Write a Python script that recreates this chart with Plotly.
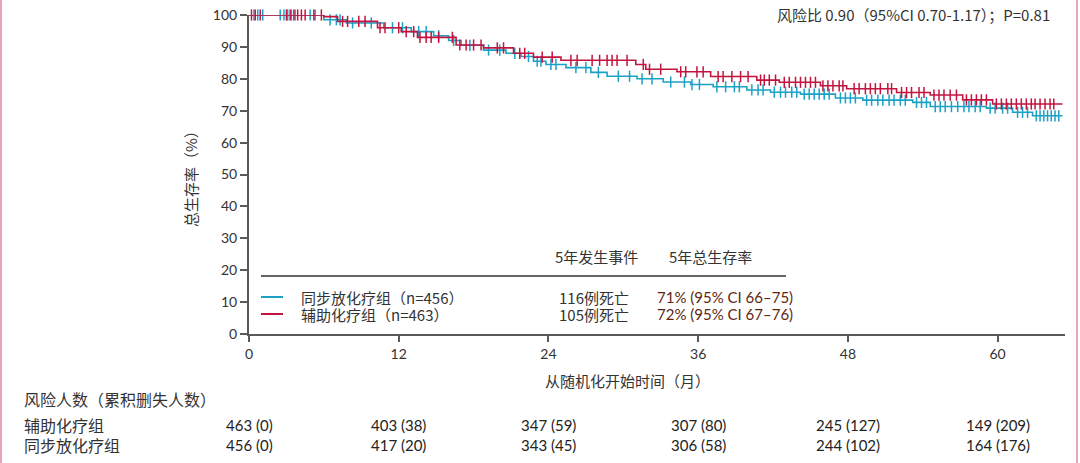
import numpy as np
import plotly.graph_objects as go

# ---------------- data ----------------
group_names = ["同步放化疗组（n=456）", "辅助化疗组（n=463）"]
events_5y = ["116例死亡", "105例死亡"]
os_5y = ["71% (95% CI 66–75)", "72% (95% CI 67–76)"]

# 同步放化疗组 (cyan) Kaplan-Meier steps
cc_times = [0, 6.0, 7.8, 10.8, 13.0, 14.8, 16.0, 17.0, 18.8, 20.6, 21.8, 22.8, 23.8, 25.4, 27.4,
            28.7, 31.1, 33.2, 35.4, 37.2, 39.9, 41.8, 44.2, 47.0, 49.2, 53.2, 54.6, 59.1, 61.2, 62.8]
cc_surv = [100, 98.5, 97.5, 96, 94.8, 93.5, 92, 90.5, 89, 88, 87, 85.5, 84.5, 83.5, 82,
           80.8, 80, 79, 78.2, 77.5, 76.5, 75.8, 75.2, 74, 73.3, 72.6, 71.3, 70.8, 69.5, 68.4]
cc_end = 65.2
cc_censor = [0.4, 0.7, 1.1, 2.5, 2.8, 3.1, 3.4, 3.7, 4.9, 5.3, 6.5, 7.0, 7.3, 8.3, 9.8, 11.5, 12.3,
             13.6, 14.2, 15.2, 16.4, 17.7, 19.2, 20.1, 21.3, 22.4, 23.1, 23.4, 24.2, 24.6, 26.2,
             27.0, 28.0, 29.6, 30.5, 31.5, 32.3, 33.8, 34.9, 35.5, 36.1, 37.5, 38.2, 38.9, 39.3,
             40.3, 40.8, 41.2, 42.1, 42.6, 43.0, 43.5, 43.9, 44.5, 44.9, 45.3, 45.7, 46.1, 46.5,
             47.4, 47.8, 48.2, 48.6, 49.5, 49.9, 50.4, 50.8, 51.3, 51.7, 52.2, 52.6, 53.5, 53.9,
             54.3, 55.0, 55.4, 55.8, 56.3, 56.8, 57.3, 57.7, 58.2, 58.6, 59.4, 59.8, 60.4, 60.8,
             61.6, 62.0, 62.4, 63.1, 63.4, 63.7, 64.0, 64.3, 64.6, 64.9]

# 辅助化疗组 (red) Kaplan-Meier steps
adj_times = [0, 6.0, 7.1, 10.3, 12.2, 13.5, 16.6, 18.8, 21.2, 22.8, 25.0, 31.0, 31.8, 34.3,
             37.0, 40.7, 42.5, 45.8, 47.9, 51.9, 54.6, 57.2, 59.6]
adj_surv = [100, 99.5, 98, 96, 94.8, 93, 90.6, 89.7, 88, 86.8, 85.8, 84.5, 83, 82.2,
            80.7, 79.6, 78.9, 77.8, 76.9, 75.7, 74.9, 73.4, 72.1]
adj_end = 65.2
adj_censor = [0.2, 0.5, 0.9, 3.0, 3.3, 3.6, 3.9, 4.2, 4.5, 5.2, 5.8, 7.5, 7.9, 8.8, 9.3, 10.5,
              10.9, 12.0, 12.6, 13.2, 13.7, 14.2, 14.6, 15.2, 16.3, 16.9, 17.4, 18.0, 18.6, 19.9,
              20.4, 21.7, 22.1, 23.5, 24.3, 25.8, 26.3, 27.5, 28.1, 28.7, 29.1, 29.5, 30.3, 31.6,
              32.1, 33.0, 34.6, 35.0, 35.9, 36.4, 37.6, 38.0, 38.7, 39.4, 40.0, 41.0, 41.3, 41.7,
              42.2, 42.9, 43.3, 43.8, 44.2, 44.6, 45.0, 45.4, 46.0, 46.4, 46.8, 47.3, 47.6, 48.5,
              48.9, 49.4, 49.8, 50.2, 50.6, 51.2, 51.5, 52.3, 52.7, 53.1, 53.7, 54.1, 54.9, 55.3,
              55.7, 56.2, 56.7, 57.5, 57.9, 58.3, 58.7, 59.1, 59.9, 60.3, 60.7, 61.1, 61.5, 61.9,
              62.3, 62.7, 63.0, 63.4, 63.8, 64.2, 64.5]

# number at risk (cumulative censored)
risk_times = [0, 12, 24, 36, 48, 60]
adj_risk = ["463 (0)", "403 (38)", "347 (59)", "307 (80)", "245 (127)", "149 (209)"]
cc_risk = ["456 (0)", "417 (20)", "343 (45)", "306 (58)", "244 (102)", "164 (176)"]

x_ticks = [0, 12, 24, 36, 48, 60]
y_ticks = list(range(0, 101, 10))

CYAN = "#1aa2c6"
RED = "#c3143f"
CJK = "Noto Sans CJK SC"
NUM = "Lato"
TXT = "#333333"

# plot-area geometry in pixels (for converting page positions to paper coords)
L, R, T, B = 249, 1065, 15, 334


def pxx(p):
    return (p - L) / (R - L)


def pyy(p):
    return (B - p) / (B - T)


def surv_at(t, times, surv):
    idx = np.searchsorted(np.array(times), np.array(t), side="right") - 1
    return np.array(surv)[idx]


fig = go.Figure()
for times, surv, end, cens, col in [
    (cc_times, cc_surv, cc_end, cc_censor, CYAN),
    (adj_times, adj_surv, adj_end, adj_censor, RED),
]:
    fig.add_trace(go.Scatter(x=times + [end], y=surv + [surv[-1]], mode="lines",
                             line=dict(color=col, width=1.6, shape="hv"),
                             cliponaxis=False, showlegend=False, hoverinfo="skip"))
    fig.add_trace(go.Scatter(x=cens, y=surv_at(cens, times, surv), mode="markers",
                             marker=dict(symbol="line-ns", size=8,
                                         line=dict(color=col, width=1.5)),
                             cliponaxis=False, showlegend=False, hoverinfo="skip"))


def note(x, y, text, font, xanchor="center", xref="paper", **kw):
    fig.add_annotation(x=x, y=y, xref=xref, yref="paper", text=text, showarrow=False,
                       xanchor=xanchor, yanchor="middle", font=font, **kw)


f14 = dict(family=CJK, size=14, color=TXT)
f15 = dict(family=CJK, size=15, color=TXT)
f16 = dict(family=CJK, size=16, color=TXT)

# legend table inside plot
fig.add_shape(type="line", xref="paper", yref="paper", x0=pxx(261), x1=pxx(786),
              y0=pyy(276), y1=pyy(276), line=dict(color="#333", width=1.5))
note(pxx(596), pyy(256), "5年发生事件", f15)
note(pxx(710), pyy(256), "5年总生存率", f15)
for i, (col, ypx) in enumerate([(CYAN, 297), (RED, 314)]):
    fig.add_shape(type="line", xref="paper", yref="paper", x0=pxx(261), x1=pxx(283),
                  y0=pyy(ypx), y1=pyy(ypx), line=dict(color=col, width=2))
    note(pxx(299), pyy(ypx), group_names[i], f15, xanchor="left")
    note(pxx(594), pyy(ypx), events_5y[i], f15)
    note(pxx(655), pyy(ypx), os_5y[i], dict(family=NUM, size=15, color="#5e2612"), xanchor="left")

# hazard ratio text
note(pxx(1052), pyy(14), "风险比 0.90（95%CI 0.70-1.17）；P=0.81", f15, xanchor="right")

# risk table
note(pxx(22), pyy(399), "风险人数（累积删失人数）", f16, xanchor="left")
for label, vals, ypx in [("辅助化疗组", adj_risk, 425), ("同步放化疗组", cc_risk, 445)]:
    note(pxx(22), pyy(ypx), label, f16, xanchor="left")
    for t, v in zip(risk_times, vals):
        note(t, pyy(ypx), v, dict(family=NUM, size=15, color="#222"), xref="x")

# axis titles
note(pxx(627), pyy(380), "从随机化开始时间（月）", f15)
note(pxx(191), pyy(175), "总生存率（%）", f15, textangle=-90)

# pink page edges
for px in [1, 1077]:
    fig.add_shape(type="line", xref="paper", yref="paper", x0=pxx(px), x1=pxx(px),
                  y0=pyy(0), y1=pyy(463), line=dict(color="#e9a5b5", width=2))

axis_common = dict(showline=True, linecolor="#5a5a5a", linewidth=2, ticks="outside",
                   tickcolor="#5a5a5a", tickwidth=2, showgrid=False, zeroline=False,
                   tickfont=dict(family=NUM, size=14, color=TXT))
fig.update_layout(
    width=1080, height=463,
    margin=dict(l=L, r=1080 - R, t=T, b=463 - B, autoexpand=False),
    paper_bgcolor="white", plot_bgcolor="white",
    xaxis=dict(range=[0, 65.4], tickvals=x_ticks, ticklen=6, automargin=False, **axis_common),
    yaxis=dict(range=[0, 100], tickvals=y_ticks, ticklen=7, automargin=False, **axis_common),
    showlegend=False,
)
fig.write_html("out.html", config={"displayModeBar": False},
               post_script="document.body.style.margin='0';document.body.style.overflow='hidden';")
